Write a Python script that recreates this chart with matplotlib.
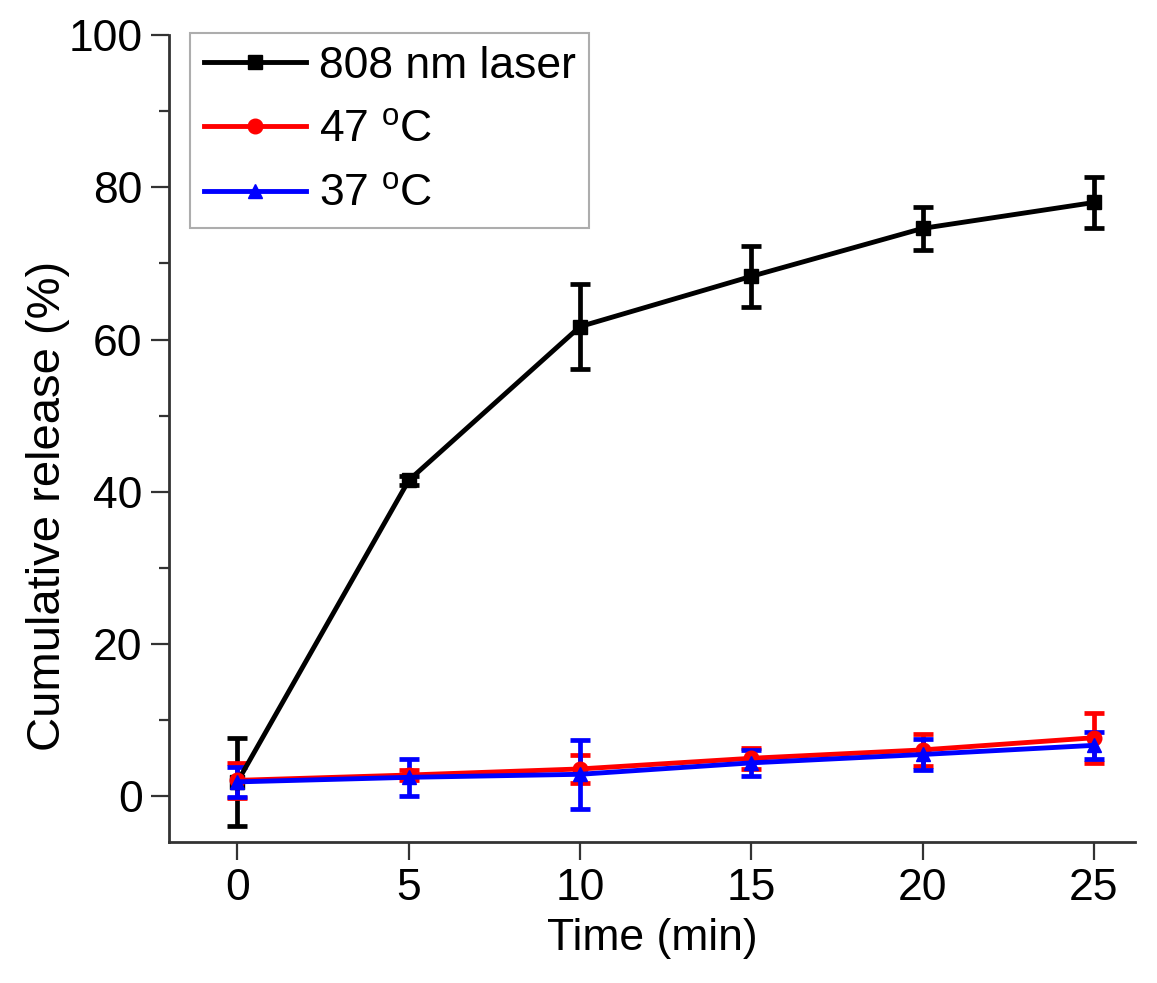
import matplotlib
matplotlib.use("Agg")
import matplotlib.pyplot as plt
from matplotlib.ticker import MultipleLocator
from matplotlib.lines import Line2D

plt.rcParams['font.family'] = ['Liberation Sans', 'DejaVu Sans']
plt.rcParams['mathtext.fontset'] = 'custom'
plt.rcParams['mathtext.rm'] = 'Liberation Sans'

# data
time = [0, 5, 10, 15, 20, 25]
laser = [1.9, 41.5, 61.7, 68.3, 74.6, 78.0]
laser_err = [5.8, 0.6, 5.6, 4.0, 2.8, 3.3]
t47 = [2.1, 2.8, 3.6, 5.0, 6.1, 7.7]
t47_err = [2.3, 0.7, 1.8, 1.4, 2.1, 3.3]
t37 = [1.9, 2.5, 2.9, 4.4, 5.5, 6.7]
t37_err = [2.0, 2.45, 4.5, 1.7, 2.0, 1.8]

labels = ['808 nm laser', '47 $^{\\rm o}$C', '37 $^{\\rm o}$C']
colors = ['black', 'red', 'blue']
markers = ['s', 'o', '^']

fig = plt.figure(figsize=(11.57, 9.83), dpi=100)
ax = fig.add_axes([0.146, 0.1434, 0.835, 0.821])

kw = dict(lw=3.5, capsize=7.5, capthick=3.4, elinewidth=3.4, ms=10.5)
series = [(laser, laser_err), (t47, t47_err), (t37, t37_err)]
for (y, e), c, m in zip(series, colors, markers):
    ax.errorbar(time, y, yerr=e, color=c, marker=m, **kw)

ax.set_xlim(-2, 26.2)
ax.set_ylim(-6, 100)
ax.xaxis.set_major_locator(MultipleLocator(5))
ax.yaxis.set_major_locator(MultipleLocator(20))
ax.yaxis.set_minor_locator(MultipleLocator(10))

for s in ['top', 'right']:
    ax.spines[s].set_visible(False)
for s in ['left', 'bottom']:
    ax.spines[s].set_linewidth(2)
    ax.spines[s].set_color('#333333')

ax.tick_params(which='major', direction='out', length=13, width=1.6, labelsize=32, pad=6, color='#333333')
ax.tick_params(which='minor', direction='out', length=7, width=1.6, color='#333333')

ax.set_xlabel('Time (min)', fontsize=32, labelpad=6)
ax.set_ylabel('Cumulative release (%)', fontsize=34)
ax.yaxis.set_label_coords(-0.102, 0.416)

handles = [Line2D([], [], color=c, marker=m, lw=3.5, ms=10.5) for c, m in zip(colors, markers)]
leg = ax.legend(handles, labels, loc='upper left', bbox_to_anchor=(0.022, 1.003), fontsize=32,
                fancybox=False, edgecolor='#999999', handlelength=2.3, handletextpad=0.3,
                labelspacing=0.52, borderpad=0.3, borderaxespad=0)
leg.get_frame().set_linewidth(1.5)

fig.savefig('out.png', dpi=100)
